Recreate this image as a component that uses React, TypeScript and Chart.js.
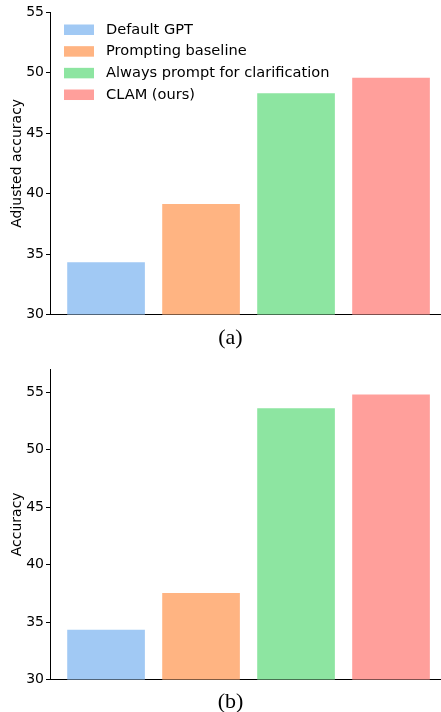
import React, { useEffect, useRef } from "react";
import { Chart, registerables } from "chart.js";

Chart.register(...registerables);

const methods = ["Default GPT", "Prompting baseline", "Always prompt for clarification", "CLAM (ours)"];
const colors = ["#a1c9f4", "#ffb482", "#8de5a1", "#ff9f9b"];
const adjustedAccuracy = [34.3, 39.1, 48.25, 49.55];
const accuracy = [34.3, 37.5, 53.55, 54.75];

const FONT = "'DejaVu Sans', sans-serif";

const legendPlugin = {
  id: "insideLegend",
  afterDraw(chart: any) {
    const opts = chart.options.plugins.insideLegend;
    if (!opts || !opts.show) return;
    const { ctx, chartArea } = chart;
    ctx.save();
    ctx.font = `14.6px ${FONT}`;
    ctx.textBaseline = "middle";
    chart.data.datasets.forEach((ds: any, i: number) => {
      const cy = chartArea.top + 17.5 + i * 21.67;
      const x = chartArea.left + 14;
      ctx.fillStyle = ds.backgroundColor;
      ctx.fillRect(x, cy - 5, 30, 10.5);
      ctx.fillStyle = "#000";
      ctx.fillText(ds.label, x + 42, cy + 0.5);
    });
    ctx.restore();
  },
};

function BarPanel({ values, yLabel, yMax, padTop, height, showLegend }: any) {
  const ref = useRef<HTMLCanvasElement>(null);
  useEffect(() => {
    const chart = new Chart(ref.current!, {
      type: "bar",
      data: {
        datasets: methods.map((m, i) => ({
          label: m,
          data: [{ x: i, y: values[i] }],
          backgroundColor: colors[i],
          borderWidth: 0,
          grouped: false,
          barThickness: 77,
        })),
      },
      options: {
        animation: false,
        responsive: false,
        maintainAspectRatio: false,
        layout: { padding: { top: padTop, bottom: 0, left: 0, right: 0 } },
        plugins: {
          legend: { display: false },
          tooltip: { enabled: false },
          insideLegend: { show: showLegend },
        } as any,
        scales: {
          x: {
            type: "linear",
            min: -0.59,
            max: 3.526,
            offset: false,
            ticks: { display: false },
            grid: { display: false },
            border: { display: true, color: "#000", width: 1 },
            afterFit: (s: any) => {
              s.height = 0;
            },
          },
          y: {
            min: 30,
            max: yMax,
            ticks: {
              stepSize: 5,
              color: "#000",
              font: { family: FONT, size: 14 },
              padding: 2,
            },
            afterBuildTicks: (s: any) => {
              s.ticks = s.ticks.filter((t: any) => t.value % 5 === 0);
            },
            grid: {
              display: true,
              drawOnChartArea: false,
              drawTicks: true,
              tickLength: 4,
              color: "#000",
            },
            border: { display: true, color: "#000", width: 1 },
            title: {
              display: true,
              text: yLabel,
              color: "#000",
              font: { family: FONT, size: 14 },
              padding: { top: 9, bottom: 0 },
            },
            afterFit: (s: any) => {
              s.width = 50;
            },
          },
        },
      },
      plugins: [legendPlugin],
    });
    return () => chart.destroy();
  }, []);
  return <canvas ref={ref} width={441} height={height} style={{ display: "block", width: 441, height }} />;
}

const captionStyle: React.CSSProperties = {
  position: "absolute",
  left: 0,
  width: 461,
  textAlign: "center",
  fontFamily: "'Liberation Serif', 'Times New Roman', serif",
  fontSize: 22,
  color: "#000",
  lineHeight: "24px",
};

export default function App() {
  return (
    <div style={{ position: "fixed", left: 0, top: 0, width: 441, height: 712, background: "#fff", overflow: "hidden" }}>
      <div style={{ position: "absolute", left: 0, top: 0 }}>
        <BarPanel values={adjustedAccuracy} yLabel="Adjusted accuracy" yMax={55} padTop={12} height={325} showLegend={true} />
      </div>
      <div style={{ ...captionStyle, top: 325 }}>(a)</div>
      <div style={{ position: "absolute", left: 0, top: 355 }}>
        <BarPanel values={accuracy} yLabel="Accuracy" yMax={57} padTop={14} height={335} showLegend={false} />
      </div>
      <div style={{ ...captionStyle, top: 689 }}>(b)</div>
    </div>
  );
}
